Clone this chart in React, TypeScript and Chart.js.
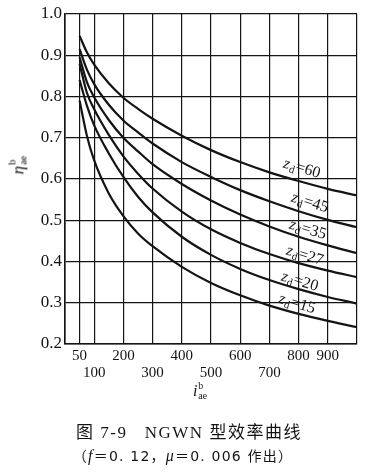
import React, { useEffect, useRef } from 'react';
import { Chart, registerables } from 'chart.js';

Chart.register(...registerables);

// ---- data ----
const ratio = [50, 75, 100, 150, 200, 250, 300, 400, 500, 600, 700, 800, 900, 1000];
const eff60 = [0.947, 0.907, 0.877, 0.832, 0.797, 0.77, 0.746, 0.705, 0.67, 0.641, 0.616, 0.595, 0.576, 0.56];
const eff45 = [0.915, 0.865, 0.83, 0.78, 0.742, 0.713, 0.686, 0.641, 0.605, 0.573, 0.546, 0.522, 0.501, 0.483];
const eff35 = [0.895, 0.835, 0.798, 0.743, 0.7, 0.667, 0.636, 0.588, 0.548, 0.514, 0.485, 0.46, 0.439, 0.42];
const eff27 = [0.879, 0.809, 0.769, 0.707, 0.655, 0.613, 0.577, 0.521, 0.478, 0.445, 0.418, 0.396, 0.378, 0.362];
const eff20 = [0.84, 0.778, 0.73, 0.662, 0.605, 0.557, 0.519, 0.46, 0.416, 0.382, 0.355, 0.333, 0.314, 0.298];
const eff15 = [0.79, 0.705, 0.645, 0.565, 0.51, 0.468, 0.437, 0.387, 0.348, 0.318, 0.293, 0.273, 0.256, 0.241];
const seriesValues = [eff60, eff45, eff35, eff27, eff20, eff15];
const seriesTeeth = ['60', '45', '35', '27', '20', '15'];

const xTicks = [0, 50, 100, 200, 300, 400, 500, 600, 700, 800, 900, 1000];
const xTicksUpperRow = [50, 200, 400, 600, 800, 900];
const xTicksLowerRow = [100, 300, 500, 700];
const yTicks = [0.2, 0.3, 0.4, 0.5, 0.6, 0.7, 0.8, 0.9, 1.0];

// curve label anchors (data coordinates) and angle
const labelX = [812, 839, 832, 822, 805, 795];
const labelY = [0.627, 0.544, 0.479, 0.416, 0.353, 0.299];
const labelAngle = [17, 17, 17, 17, 17, 17];

const INK = '#141414';
const SERIF = '"Liberation Serif", "DejaVu Serif", serif';

const curveLabels = {
  id: 'curveLabels',
  afterDatasetsDraw(chart: any) {
    const { ctx, scales } = chart;
    const xs = scales.x;
    const ys = scales.y;
    seriesTeeth.forEach((t, i) => {
      const px = xs.getPixelForValue(labelX[i]);
      const py = ys.getPixelForValue(labelY[i]);
      ctx.save();
      ctx.translate(px, py);
      ctx.rotate((labelAngle[i] * Math.PI) / 180);
      ctx.fillStyle = INK;
      ctx.textBaseline = 'alphabetic';
      ctx.textAlign = 'left';
      const fz = 'italic 16px ' + SERIF;
      const fd = '11px ' + SERIF;
      const fr = '16px ' + SERIF;
      ctx.font = fz;
      const wz = ctx.measureText('z').width;
      ctx.font = fd;
      const wd = ctx.measureText('d').width;
      ctx.font = fr;
      const rest = '=' + t;
      const wr = ctx.measureText(rest).width;
      const total = wz + wd + 1 + wr;
      let x0 = -total / 2;
      const base = 5;
      ctx.font = fz;
      ctx.fillText('z', x0, base);
      x0 += wz + 0.5;
      ctx.font = fd;
      ctx.fillText('d', x0, base + 3);
      x0 += wd + 0.5;
      ctx.font = fr;
      ctx.fillText(rest, x0, base);
      ctx.restore();
    });
  },
};

function Stack({ base, sup, sub, size }: { base: string; sup: string; sub: string; size: number }) {
  return (
    <span style={{ display: 'inline-flex', alignItems: 'center', whiteSpace: 'nowrap' }}>
      <span style={{ fontStyle: 'italic', fontSize: size }}>{base}</span>
      <span
        style={{
          display: 'inline-flex',
          flexDirection: 'column',
          fontSize: size * 0.62,
          lineHeight: `${size * 0.62}px`,
          marginLeft: 1,
        }}
      >
        <span>{sup}</span>
        <span>{sub}</span>
      </span>
    </span>
  );
}

export default function App() {
  const ref = useRef<HTMLCanvasElement | null>(null);

  useEffect(() => {
    if (!ref.current) return;
    const datasets = seriesValues.map((vals, i) => ({
      label: 'z_d=' + seriesTeeth[i],
      data: ratio.map((r, j) => ({ x: r, y: vals[j] })),
      borderColor: INK,
      borderWidth: 2.2,
      pointRadius: 0,
      fill: false,
      cubicInterpolationMode: 'monotone' as const,
    }));
    const chart = new Chart(ref.current, {
      type: 'line',
      data: { datasets },
      options: {
        responsive: false,
        animation: false,
        layout: { padding: { left: 0, top: 14, right: 11, bottom: 81 } },
        plugins: { legend: { display: false }, tooltip: { enabled: false } },
        scales: {
          x: {
            type: 'linear',
            min: 0,
            max: 1000,
            afterBuildTicks: (s: any) => {
              s.ticks = xTicks.map((v) => ({ value: v }));
            },
            afterFit: (s: any) => {
              s.height = 50;
            },
            grid: { color: INK, lineWidth: 1.2, drawTicks: false },
            border: { display: true, color: INK, width: 1.6 },
            ticks: {
              autoSkip: false,
              maxRotation: 0,
              padding: 4,
              color: INK,
              font: { family: SERIF, size: 15, lineHeight: '17px' },
              callback: (v: any) => {
                const n = Number(v);
                if (xTicksUpperRow.includes(n)) return String(n);
                if (xTicksLowerRow.includes(n)) return ['', String(n)];
                return '';
              },
            },
          },
          y: {
            type: 'linear',
            min: 0.2,
            max: 1.0,
            afterBuildTicks: (s: any) => {
              s.ticks = yTicks.map((v) => ({ value: v }));
            },
            afterFit: (s: any) => {
              s.width = 65;
            },
            grid: { color: INK, lineWidth: 1.2, drawTicks: false },
            border: { display: true, color: INK, width: 1.6 },
            ticks: {
              padding: 3,
              color: INK,
              font: { family: SERIF, size: 17 },
              callback: (v: any) => Number(v).toFixed(1),
            },
          },
        },
      },
      plugins: [curveLabels],
    });
    return () => chart.destroy();
  }, []);

  return (
    <div style={{ position: 'absolute', left: 0, top: 0, width: 368, height: 475, background: '#fff', fontFamily: SERIF, color: INK }}>
      <canvas ref={ref} width={368} height={475} style={{ position: 'absolute', left: 0, top: 0 }} />
      <div
        style={{
          position: 'absolute',
          left: 18,
          top: 165,
          transform: 'translate(-50%, -50%) rotate(-90deg)',
          fontSize: 17,
        }}
      >
        <Stack base="η" sup="b" sub="ae" size={17} />
      </div>
      <div style={{ position: 'absolute', left: 200, top: 391, transform: 'translate(-50%, -50%)' }}>
        <Stack base="i" sup="b" sub="ae" size={16} />
      </div>
      <div
        style={{
          position: 'absolute',
          left: 0,
          width: 378,
          top: 418,
          textAlign: 'center',
          fontSize: 17,
          letterSpacing: 1.5,
          whiteSpace: 'pre',
          fontFamily: '"Liberation Serif", "Noto Sans CJK SC", serif',
        }}
      >
        {'图 7-9   NGWN 型效率曲线'}
      </div>
      <div
        style={{
          position: 'absolute',
          left: 0,
          width: 366,
          top: 445,
          textAlign: 'center',
          fontSize: 14,
          letterSpacing: 1.2,
          whiteSpace: 'pre',
          fontFamily: '"DejaVu Sans", "Noto Sans CJK SC", sans-serif',
        }}
      >
        （<i style={{ fontFamily: SERIF, fontSize: 16 }}>f</i>＝0. 12，<i style={{ fontFamily: SERIF, fontSize: 16 }}>μ</i>＝0. 006 作出）
      </div>
    </div>
  );
}
